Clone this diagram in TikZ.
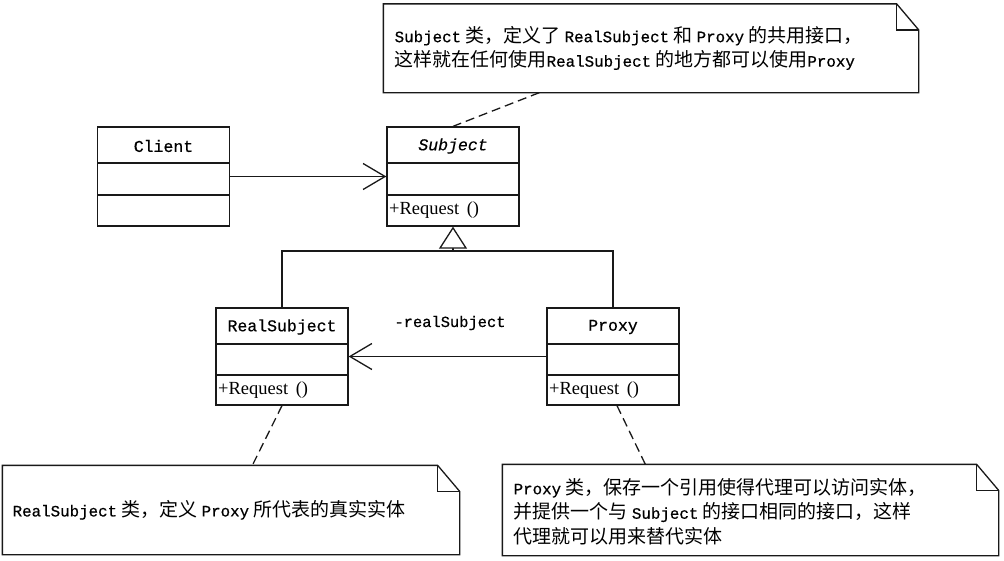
\documentclass[tikz,border=0pt]{standalone}
\usepackage{fontspec}
\setmainfont{Noto Sans CJK SC}
\newfontfamily\mono[Scale=0.833,FakeBold=0.6]{Liberation Mono}
\newfontfamily\cname[FakeBold=0.6]{Liberation Mono}
\newfontfamily\opfont{Liberation Serif}
\usetikzlibrary{arrows.meta}
\newcommand\m[1]{{\mono #1}}
\newcommand\drawnote[1]{%
  \draw[notepath] (#1.north west) -- ([xshift=-22pt]#1.north east) -- ([yshift=-26pt]#1.north east) -- (#1.south east) -- (#1.south west) -- cycle;
  \draw[notepath] ([xshift=-22pt]#1.north east) -- ([xshift=-22pt,yshift=-26pt]#1.north east) -- ([yshift=-26pt]#1.north east);}
\begin{document}
\begin{tikzpicture}[x=1pt,y=-1pt,
  line width=1.3pt, draw=black!90,
  classbox/.style={draw=black!90, line width=1.3pt, inner sep=0pt, minimum width=132pt},
  notebody/.style={inner sep=0pt},
  notepath/.style={draw=black!90, line width=1.3pt, line join=miter},
  ctitle/.style={inner sep=0pt, font=\fontsize{16.5}{20}\selectfont\cname},
  optext/.style={inner sep=0pt, anchor=west, font=\fontsize{18.5}{20}\selectfont\opfont},
  notetext/.style={inner sep=0pt, anchor=west, align=left, font=\fontsize{19}{24.5}\selectfont},
  assoc/.style={draw=black!90, line width=1.3pt, -{Straight Barb[length=22pt,width=26pt]}},
  gen/.style={draw=black!90, line width=1.3pt, -{Triangle[open,length=22pt,width=28pt,fill=white]}},
  noteline/.style={draw=black!90, line width=1.3pt, dash pattern=on 9pt off 5pt}
]
\useasboundingbox (0,0) rectangle (1004,560);
\fill[white] (0,0) rectangle (1004,560);

% classes
\node[classbox, minimum height=99pt] (client) at (163.5,176.5) {};
\draw (97,163) -- (230,163) (97,195) -- (230,195);
\node[ctitle] (clientname) at (163.5,146) {Client};

\node[classbox, minimum height=99pt] (subject) at (453,176.5) {};
\draw (387,163) -- (519,163) (387,195) -- (519,195);
\node[ctitle, font=\fontsize{16.5}{20}\selectfont\cname\itshape] (subjectname) at (453,146) {Subject};
\node[optext] (subjectop) at (388.5,210) {+Request\hspace{3pt} ()};

\node[classbox, minimum height=97pt] (realsubject) at (282,356.5) {};
\draw (216,344) -- (348,344) (216,375) -- (348,375);
\node[ctitle] (realname) at (282,327) {RealSubject};
\node[optext] (realop) at (217.5,390) {+Request\hspace{3pt} ()};

\node[classbox, minimum height=97pt] (proxy) at (613,356.5) {};
\draw (547,344) -- (679,344) (547,375) -- (679,375);
\node[ctitle] (proxyname) at (613,327) {Proxy};
\node[optext] (proxyop) at (548.5,390) {+Request\hspace{3pt} ()};

% connectors
\draw[assoc] (client.east) -- (subject.west);
\draw[assoc] (proxy.west) -- (realsubject.east);
\node[inner sep=0pt, font=\fontsize{18.5}{20}\selectfont\mono] (rolelabel) at (450,323) {-realSubject};

\coordinate (gbase) at (453,251);
\draw[gen] (gbase) -- (subject.south);
\draw (realsubject.north) |- (gbase) -| (proxy.north);

% notes
\node[notebody, minimum width=534pt, minimum height=87.5pt] (topnote) at (651,48.25) {};
\drawnote{topnote}
\node[notetext] (topnotetext) at (394,48) {\m{Subject} 类，定义了 \m{RealSubject} 和 \m{Proxy} 的共用接口，\\这样就在任何使用\m{RealSubject} 的地方都可以使用\m{Proxy}};

\node[notebody, minimum width=456pt, minimum height=88pt] (leftnote) at (231,510) {};
\drawnote{leftnote}
\node[notetext] (leftnotetext) at (12,510) {\m{RealSubject} 类，定义 \m{Proxy} 所代表的真实实体};

\node[notebody, minimum width=495pt, minimum height=90pt] (rightnote) at (750.5,510) {};
\drawnote{rightnote}
\node[notetext] (rightnotetext) at (513,511.5) {\m{Proxy} 类，保存一个引用使得代理可以访问实体，\\并提供一个与 \m{Subject} 的接口相同的接口，这样\\代理就可以用来替代实体};

\draw[noteline] ([xshift=156pt]topnote.south west) -- (subject.north);
\draw[noteline] (realsubject.south) -- ([xshift=250pt]leftnote.north west);
\draw[noteline] ([xshift=4pt]proxy.south) -- ([xshift=143pt]rightnote.north west);
\end{tikzpicture}
\end{document}
